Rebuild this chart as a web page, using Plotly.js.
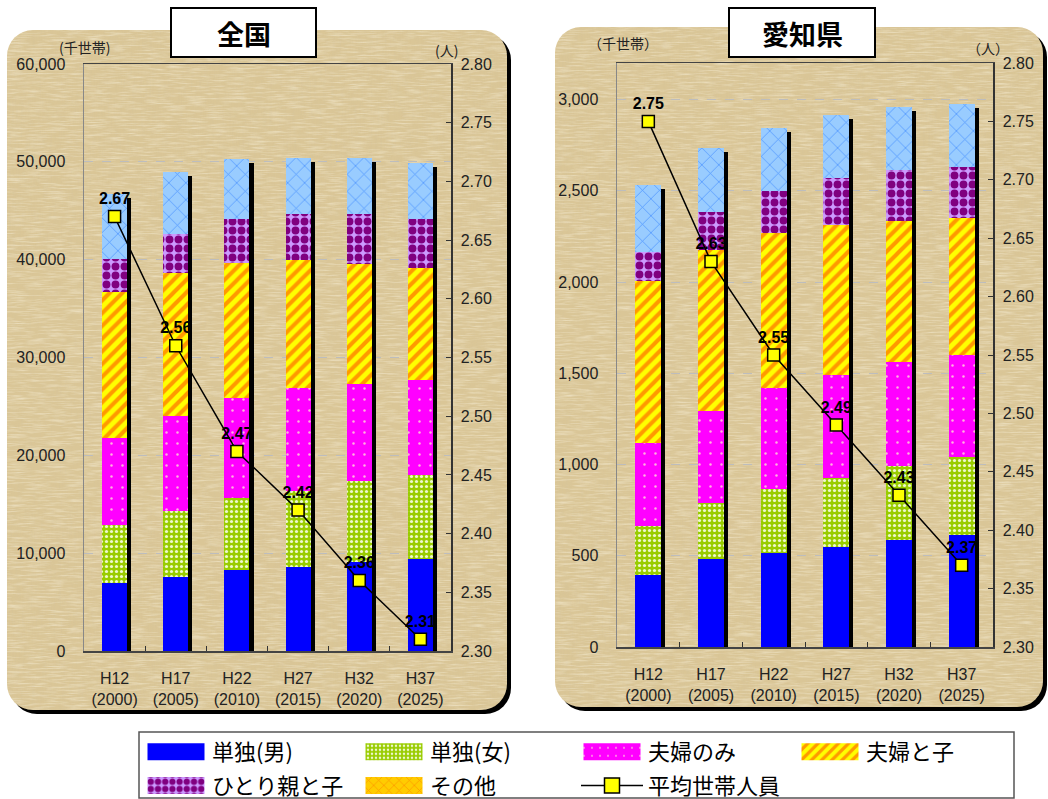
<!DOCTYPE html>
<html>
<head>
<meta charset="utf-8">
<script src="https://cdn.plot.ly/plotly-3.0.1.min.js"></script>
<style>html,body{margin:0;padding:0;background:#fff;}#chart{width:1048px;height:799px;}</style>
</head>
<body>
<div id="chart"></div>
<script>
// ---- data ----
const categories = ['H12', 'H17', 'H22', 'H27', 'H32', 'H37'];
const tickLabels = ['H12<br>(2000)', 'H17<br>(2005)', 'H22<br>(2010)', 'H27<br>(2015)', 'H32<br>(2020)', 'H37<br>(2025)'];
const seriesNames = ['単独(男)', '単独(女)', '夫婦のみ', '夫婦と子', 'ひとり親と子', 'その他'];
const lineName = '平均世帯人員';

// 全国 (千世帯)
const zenkokuSingleMale   = [6950, 7570, 8290, 8600, 9110, 9420];
const zenkokuSingleFemale = [5950, 6780, 7390, 7710, 8220, 8530];
const zenkokuCouple       = [8850, 9660, 10180, 10570, 9960, 9760];
const zenkokuCoupleChild  = [14900, 14590, 13830, 13050, 12300, 11400];
const zenkokuSingleParent = [3450, 4060, 4510, 4710, 5050, 5090];
const zenkokuOther        = [6620, 6320, 6140, 5800, 5800, 5660];
const zenkokuAvgPersons   = [2.67, 2.56, 2.47, 2.42, 2.36, 2.31];

// 愛知県 (千世帯)
const aichiSingleMale   = [397, 482, 513, 548, 584, 612];
const aichiSingleFemale = [264, 306, 351, 377, 406, 430];
const aichiCouple       = [456, 505, 555, 566, 569, 559];
const aichiCoupleChild  = [887, 885, 847, 819, 778, 749];
const aichiSingleParent = [159, 205, 230, 260, 277, 278];
const aichiOther        = [366, 350, 346, 344, 344, 346];
const aichiAvgPersons   = [2.75, 2.63, 2.55, 2.49, 2.43, 2.37];

// ---- styles ----
const W = 1048, H = 799;
const px = x => x / W;
const py = y => 1 - y / H;
function pat(color, shape, fg, size, solidity) {
  return {color: color, pattern: {shape: shape, fgcolor: fg, bgcolor: color, size: size, solidity: solidity, fillmode: 'replace'}};
}
const markerStyles = [
  {color: '#0000FF'},
  pat('#99CC00', '.', '#EEF8CC', 5, 0.32),
  pat('#FF00FF', '.', '#FFB0E0', 11, 0.04),
  pat('#FFFF00', '/', '#FF9900', 9, 0.45),
  pat('#CC99FF', '.', '#800080', 9, 0.6),
  pat('#99CCFF', 'x', '#4D94FF', 12, 0.12)
];
const legendOtherStyle = pat('#FFCC00', 'x', '#FF9900', 9, 0.2);
const tickFont = {family: 'Liberation Sans, Arial, sans-serif', size: 16, color: '#222'};
const jpFont = 'Noto Sans CJK JP, sans-serif';

function sumStack(arrs) {
  return arrs[0].map((_, i) => arrs.reduce((s, a) => s + a[i], 0));
}

const traces = [];
function addRegion(series, avg, xa, yMain, yShadow, yLine, showLegend) {
  series.forEach((vals, k) => {
    traces.push({
      type: 'bar', x: categories, y: vals, name: seriesNames[k],
      xaxis: xa, yaxis: yMain, width: 0.41,
      marker: Object.assign({line: {width: 0}}, markerStyles[k]),
      showlegend: showLegend && k !== 5, hoverinfo: 'name+y'
    });
  });
  // drop shadow of each stacked column (same totals, on a shifted twin axis)
  traces.push({
    type: 'bar', x: categories, y: sumStack(series), xaxis: xa, yaxis: yShadow,
    width: 0.068, offset: 0.205, marker: {color: '#000', line: {width: 0}},
    showlegend: false, hoverinfo: 'skip'
  });
  traces.push({
    type: 'scatter', mode: 'lines+markers+text', x: categories, y: avg, name: lineName,
    xaxis: xa, yaxis: yLine,
    text: avg.map(v => v.toFixed(2)), textposition: 'top center',
    textfont: {family: 'Liberation Sans, Arial, sans-serif', size: 16, color: '#000', weight: 'bold'},
    line: {color: '#000', width: 1.5},
    marker: {symbol: 'square', size: 12, color: '#FFFF00', line: {color: '#000', width: 1.5}},
    showlegend: false, cliponaxis: false
  });
}

addRegion([zenkokuSingleMale, zenkokuSingleFemale, zenkokuCouple, zenkokuCoupleChild, zenkokuSingleParent, zenkokuOther],
  zenkokuAvgPersons, 'x', 'y', 'y2', 'y3', true);
addRegion([aichiSingleMale, aichiSingleFemale, aichiCouple, aichiCoupleChild, aichiSingleParent, aichiOther],
  aichiAvgPersons, 'x2', 'y4', 'y5', 'y6', false);

// legend-only entries (その他 swatch as in the original key, and the line)
traces.push({type: 'bar', x: [null], y: [null], name: seriesNames[5], xaxis: 'x', yaxis: 'y',
  marker: Object.assign({line: {width: 0}}, legendOtherStyle), hoverinfo: 'skip'});
traces.push({type: 'scatter', mode: 'lines+markers', x: [null], y: [null], name: lineName, xaxis: 'x', yaxis: 'y3',
  line: {color: '#000', width: 1.5},
  marker: {symbol: 'square', size: 15, color: '#FFFF00', line: {color: '#000', width: 1.5}}});

// ---- panel background (parchment texture, rounded, with black drop shadow) ----
function panelImage(x0, y0, x1, y1) {
  const w = x1 - x0, h = y1 - y0, r = 26, s = 4;
  const svg = `<svg xmlns='http://www.w3.org/2000/svg' width='${w + s}' height='${h + s}' viewBox='0 0 ${w + s} ${h + s}'>
<defs>
<clipPath id='c'><rect x='0' y='0' width='${w}' height='${h}' rx='${r}' ry='${r}'/></clipPath>
<filter id='d' x='0' y='0' width='100%' height='100%'>
<feTurbulence type='fractalNoise' baseFrequency='0.7 0.04' numOctaves='3' seed='4'/>
<feColorMatrix type='matrix' values='0 0 0 0 0.66  0 0 0 0 0.55  0 0 0 0 0.34  1.5 0 0 0 -0.68'/>
</filter>
<filter id='l' x='0' y='0' width='100%' height='100%'>
<feTurbulence type='fractalNoise' baseFrequency='0.05 0.6' numOctaves='3' seed='9'/>
<feColorMatrix type='matrix' values='0 0 0 0 0.95  0 0 0 0 0.89  0 0 0 0 0.72  0 1.5 0 0 -0.64'/>
</filter>
</defs>
<rect x='${s}' y='${s}' width='${w}' height='${h}' rx='${r}' ry='${r}' fill='#000'/>
<g clip-path='url(#c)'>
<rect x='0' y='0' width='${w}' height='${h}' fill='#DAC697'/>
<rect x='0' y='0' width='${w}' height='${h}' filter='url(#d)' opacity='0.4'/>
<rect x='0' y='0' width='${w}' height='${h}' filter='url(#l)' opacity='0.75'/>
</g>
</svg>`;
  return {
    source: 'data:image/svg+xml;charset=utf-8,' + encodeURIComponent(svg),
    xref: 'paper', yref: 'paper', x: px(x0), y: py(y0), sizex: (w + s) / W, sizey: (h + s) / H,
    xanchor: 'left', yanchor: 'top', sizing: 'stretch', layer: 'below'
  };
}
function titleBox(x0, x1) {
  return {type: 'rect', xref: 'paper', yref: 'paper', x0: px(x0), x1: px(x1), y0: py(57), y1: py(8),
    fillcolor: '#fff', line: {color: '#000', width: 2}, layer: 'above'};
}

const xCommon = {
  type: 'category', tickvals: categories, ticktext: tickLabels, tickfont: tickFont,
  ticks: 'inside', tickson: 'boundaries', ticklen: 5, tickcolor: '#333', ticklabelstandoff: 12,
  showline: true, linecolor: '#444', linewidth: 1.5, mirror: true, showgrid: false, fixedrange: true
};
const yLeftCommon = {
  tickfont: tickFont, tickformat: ',d', showgrid: true, gridcolor: '#BDBDBD', griddash: 'dash', gridwidth: 1,
  showline: true, linecolor: '#888', linewidth: 1.5, ticks: '', ticklabelstandoff: 14, zeroline: false, fixedrange: true
};
const yRightCommon = {
  side: 'right', range: [2.30, 2.80], dtick: 0.05, tickformat: '.2f', tickfont: tickFont,
  ticks: 'inside', ticklen: 5, tickcolor: '#333', showline: true, linecolor: '#333', linewidth: 1.5,
  showgrid: false, zeroline: false, ticklabelstandoff: 5, fixedrange: true
};

const domL = {x: [px(84), px(451)], y: [py(651), py(64)]};
const domR = {x: [px(617), px(993)], y: [py(647), py(63)]};

const layout = {
  width: W, height: H, margin: {l: 0, r: 0, t: 0, b: 0},
  paper_bgcolor: '#FFFFFF', plot_bgcolor: '#FBF1DF',
  barmode: 'stack', bargap: 0.59,
  font: {family: jpFont, color: '#000'},
  xaxis: Object.assign({}, xCommon, {domain: domL.x, anchor: 'y'}),
  yaxis: Object.assign({}, yLeftCommon, {domain: domL.y, anchor: 'x', range: [0, 60000], dtick: 10000}),
  yaxis2: {overlaying: 'y', anchor: 'x', range: [410, 60410], visible: false, fixedrange: true},
  yaxis3: Object.assign({}, yRightCommon, {overlaying: 'y', anchor: 'x'}),
  xaxis2: Object.assign({}, xCommon, {domain: domR.x, anchor: 'y4'}),
  yaxis4: Object.assign({}, yLeftCommon, {domain: domR.y, anchor: 'x2', range: [0, 3200], dtick: 500}),
  yaxis5: {overlaying: 'y4', anchor: 'x2', range: [19, 3219], visible: false, fixedrange: true},
  yaxis6: Object.assign({}, yRightCommon, {overlaying: 'y4', anchor: 'x2'}),
  legend: {orientation: 'h', x: px(140), xanchor: 'left', y: py(797), yanchor: 'bottom',
    bgcolor: 'rgba(0,0,0,0)', borderwidth: 0, traceorder: 'normal', itemwidth: 62,
    entrywidth: 141, entrywidthmode: 'pixels', font: {family: jpFont, size: 22, color: '#000'}},
  images: [panelImage(7, 30, 507, 710), panelImage(555, 27, 1043, 707)],
  shapes: [
    titleBox(171, 316), titleBox(729, 875),
    {type: 'rect', xref: 'paper', yref: 'paper', x0: px(139), x1: px(1014), y0: py(798), y1: py(732),
      fillcolor: '#fff', line: {color: '#555', width: 1.5}, layer: 'below'}
  ],
  annotations: [
    {xref: 'paper', yref: 'paper', x: px(244), y: py(33), xanchor: 'center', yanchor: 'middle', text: '<b>全国</b>',
      showarrow: false, font: {family: jpFont, size: 27, color: '#000'}},
    {xref: 'paper', yref: 'paper', x: px(802), y: py(33), xanchor: 'center', yanchor: 'middle', text: '<b>愛知県</b>',
      showarrow: false, font: {family: jpFont, size: 27, color: '#000'}},
    {xref: 'paper', yref: 'paper', x: px(84), y: py(47), xanchor: 'center', yanchor: 'middle', text: '(千世帯)',
      showarrow: false, font: {family: jpFont, size: 14, color: '#222'}},
    {xref: 'paper', yref: 'paper', x: px(446), y: py(50), xanchor: 'center', yanchor: 'middle', text: '(人)',
      showarrow: false, font: {family: jpFont, size: 14, color: '#222'}},
    {xref: 'paper', yref: 'paper', x: px(623), y: py(43), xanchor: 'center', yanchor: 'middle', text: '（千世帯）',
      showarrow: false, font: {family: jpFont, size: 14, color: '#222'}},
    {xref: 'paper', yref: 'paper', x: px(988), y: py(48), xanchor: 'center', yanchor: 'middle', text: '（人）',
      showarrow: false, font: {family: jpFont, size: 14, color: '#222'}}
  ]
};

const parseT = el => {
  const m = /translate\(\s*([-\d.e]+)[\s,]+([-\d.e]+)\s*\)/.exec(el.getAttribute('transform') || '');
  return m ? [parseFloat(m[1]), parseFloat(m[2])] : [0, 0];
};

Plotly.newPlot('chart', traces, layout, {displayModeBar: false, staticPlot: true}).then(gd => {
  // widen the legend key boxes of the bar series to the original's long key swatches
  gd.querySelectorAll('g.legendpoints path.legendundefined')
    .forEach(p => p.setAttribute('d', 'M28.5,8.5H-28.5V-8.5H28.5Z'));
  // nudge the key rows to the original's row positions
  const lg = gd.querySelector('g.legend');
  if (lg) {
    const t = parseT(lg);
    lg.setAttribute('transform', `translate(${t[0]},${t[1] + 8})`);
    const items = Array.from(lg.querySelectorAll('g.traces'));
    const ys = items.map(it => parseT(it)[1]);
    const maxY = Math.max(...ys);
    items.forEach((it, i) => {
      if (ys[i] === maxY && ys[i] !== Math.min(...ys)) {
        const tt = parseT(it);
        it.setAttribute('transform', `translate(${tt[0]},${tt[1] + 2})`);
      }
    });
  }
});
</script>
</body>
</html>
